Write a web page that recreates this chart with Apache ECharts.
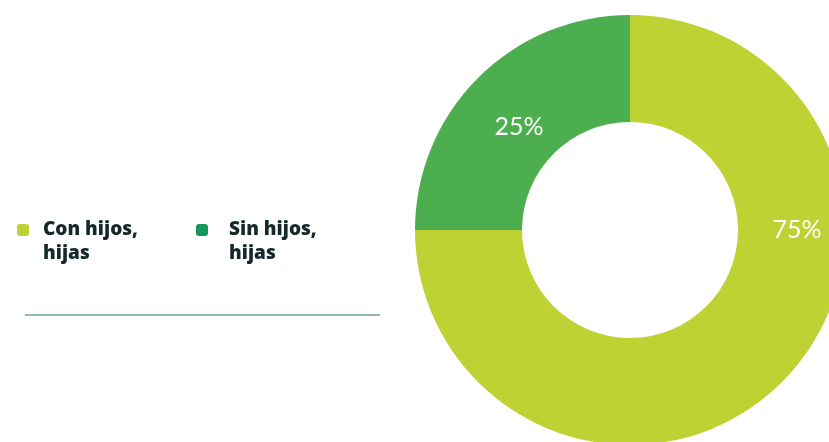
<!DOCTYPE html>
<html>
<head>
<meta charset="utf-8">
<script src="https://cdn.jsdelivr.net/npm/echarts@6/dist/echarts.min.js"></script>
<style>
  html, body { margin: 0; padding: 0; background: #ffffff; }
  #chart { width: 829px; height: 442px; }
</style>
</head>
<body>
<div id="chart"></div>
<script>
// Share of people with and without children
const categories = ['Con hijos, hijas', 'Sin hijos, hijas'];
const values = [75, 25];
const sliceColors = ['#bfd233', '#4cae4f'];
const legendColors = ['#bfd233', '#13975b'];
// Where each percentage label sits
const labelSpots = [[797, 230], [519, 127]];
// Legend placement: marker left edge and gap before the text
const legendLeft = [12, 191];
const legendTextGap = [9, 16];

const chart = echarts.init(document.getElementById('chart'), null, { renderer: 'canvas' });

chart.setOption({
  backgroundColor: '#ffffff',
  animation: false,
  legend: categories.map((name, i) => ({
    data: [{ name: name, itemStyle: { color: legendColors[i] } }],
    left: legendLeft[i],
    top: 189,
    icon: 'roundRect',
    itemWidth: 12,
    itemHeight: 12,
    selectedMode: false,
    // empty line above keeps the marker level with the first line
    formatter: n => ' \n' + n.replace(', ', ',\n'),
    textStyle: {
      fontFamily: 'Open Sans',
      fontWeight: 800,
      fontSize: 19,
      lineHeight: 24,
      color: '#15292a',
      padding: [0, 0, 0, legendTextGap[i]]
    }
  })),
  graphic: [{
    type: 'line',
    shape: { x1: 25, y1: 315, x2: 380, y2: 315 },
    style: { stroke: '#93b9aa', lineWidth: 2 }
  }],
  series: [{
    type: 'pie',
    center: [630, 230],
    radius: [108, 215],
    startAngle: 90,
    clockwise: true,
    data: categories.map((name, i) => ({
      name: name,
      value: values[i],
      itemStyle: { color: sliceColors[i] }
    })),
    label: {
      show: true,
      position: 'inside',
      formatter: '{d}%',
      color: '#ffffff',
      fontFamily: 'Lato',
      fontSize: 25,
      fontWeight: 'normal'
    },
    labelLayout: p => ({
      x: labelSpots[p.dataIndex][0],
      y: labelSpots[p.dataIndex][1],
      align: 'center',
      verticalAlign: 'middle'
    }),
    emphasis: { disabled: true }
  }]
});
</script>
</body>
</html>
